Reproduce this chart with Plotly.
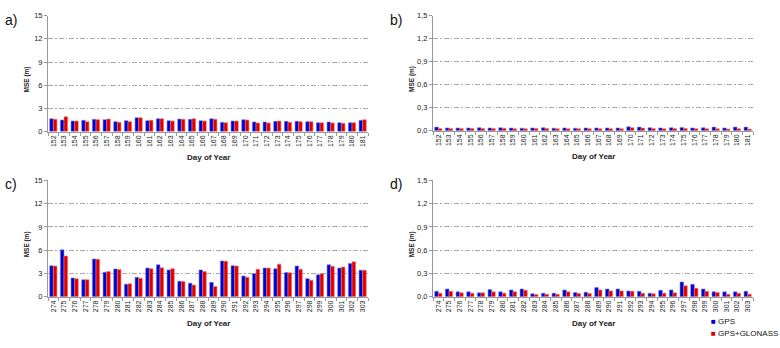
import plotly.graph_objects as go

days_a = [str(d) for d in range(152, 182)]
days_c = [str(d) for d in range(274, 304)]

a_gps = [1.67, 1.50, 1.37, 1.46, 1.59, 1.55, 1.29, 1.42, 1.80, 1.42, 1.67, 1.42, 1.63, 1.59, 1.42,
         1.67, 1.20, 1.37, 1.55, 1.25, 1.25, 1.33, 1.33, 1.33, 1.29, 1.16, 1.25, 1.16, 1.16, 1.46]
a_glo = [1.59, 1.93, 1.37, 1.29, 1.55, 1.63, 1.20, 1.29, 1.80, 1.46, 1.67, 1.37, 1.59, 1.67, 1.37,
         1.59, 1.16, 1.37, 1.50, 1.12, 1.12, 1.37, 1.20, 1.29, 1.29, 1.16, 1.12, 1.07, 1.16, 1.55]

b_gps = [0.046, 0.035, 0.035, 0.035, 0.038, 0.035, 0.038, 0.035, 0.032, 0.035, 0.038, 0.032, 0.035,
         0.032, 0.035, 0.035, 0.035, 0.035, 0.050, 0.046, 0.038, 0.035, 0.038, 0.042, 0.035, 0.038,
         0.046, 0.035, 0.046, 0.046]
b_glo = [0.027, 0.027, 0.027, 0.027, 0.027, 0.027, 0.030, 0.025, 0.025, 0.027, 0.027, 0.025, 0.025,
         0.025, 0.025, 0.025, 0.025, 0.025, 0.038, 0.033, 0.027, 0.025, 0.027, 0.027, 0.025, 0.025,
         0.025, 0.020, 0.025, 0.020]

c_gps = [4.00, 6.04, 2.42, 2.20, 4.87, 3.17, 3.58, 1.62, 2.50, 3.70, 4.12, 3.46, 2.00, 1.75, 3.46,
         1.85, 4.62, 4.00, 2.67, 3.00, 3.70, 3.62, 3.12, 3.96, 2.33, 2.83, 4.12, 3.70, 4.29, 3.42]
c_glo = [3.96, 5.25, 2.33, 2.20, 4.83, 3.25, 3.50, 1.67, 2.38, 3.62, 3.75, 3.62, 1.96, 1.50, 3.25,
         1.31, 4.58, 3.96, 2.50, 3.54, 3.70, 4.20, 3.08, 3.54, 2.12, 2.96, 3.92, 3.83, 4.50, 3.42]

d_gps = [0.071, 0.100, 0.063, 0.063, 0.050, 0.092, 0.063, 0.088, 0.100, 0.038, 0.046, 0.046, 0.088,
         0.054, 0.058, 0.120, 0.100, 0.100, 0.075, 0.071, 0.046, 0.083, 0.088, 0.190, 0.160, 0.100,
         0.063, 0.063, 0.063, 0.071]
d_glo = [0.046, 0.071, 0.050, 0.046, 0.050, 0.063, 0.046, 0.063, 0.083, 0.029, 0.033, 0.033, 0.063,
         0.042, 0.042, 0.088, 0.075, 0.075, 0.071, 0.046, 0.038, 0.046, 0.050, 0.140, 0.110, 0.071,
         0.054, 0.033, 0.046, 0.033]

panel_labels = ["a)", "b)", "c)", "d)"]
series_names = ["GPS", "GPS+GLONASS"]

BLUE = "#0000CC"
RED = "#DD0000"
BLUE_EDGE = "#8080E6"
RED_EDGE = "#F08080"
FONT = "Arial, Liberation Sans, sans-serif"
GRID_DASH = "5px,2px,1.5px,2px"

W, H = 780, 348

def px_x(p):
    return p / W

def px_y(p):
    return 1 - p / H

panels = [
    dict(x=days_a, gps=a_gps, glo=a_glo, xd=(48, 368), yd=(12, 131), rng=15, dt=3, fmt="d"),
    dict(x=days_a, gps=b_gps, glo=b_glo, xd=(433, 753), yd=(12, 130), rng=1.5, dt=0.3, fmt=".1f"),
    dict(x=days_c, gps=c_gps, glo=c_glo, xd=(48, 368), yd=(181, 300.5), rng=15, dt=3, fmt="d"),
    dict(x=days_c, gps=d_gps, glo=d_glo, xd=(433, 753), yd=(181, 300.5), rng=1.5, dt=0.3, fmt=".1f"),
]

fig = go.Figure()
layout = dict(
    width=W, height=H,
    margin=dict(l=0, r=0, t=0, b=0),
    paper_bgcolor="white", plot_bgcolor="white",
    separators=",.",
    barmode="group", bargap=0.32, bargroupgap=0.0,
    font=dict(family=FONT, size=7, color="#222"),
    showlegend=False,
)
annotations = []

for i, p in enumerate(panels):
    n = "" if i == 0 else str(i + 1)
    xa, ya = "x" + n, "y" + n
    fig.add_trace(go.Bar(x=p["x"], y=p["gps"], name=series_names[0], marker_color=BLUE,
                         marker_line=dict(width=0.6, color=BLUE_EDGE), xaxis=xa, yaxis=ya,
                         offsetgroup="g"))
    fig.add_trace(go.Bar(x=p["x"], y=p["glo"], name=series_names[1], marker_color=RED,
                         marker_line=dict(width=0.6, color=RED_EDGE), xaxis=xa, yaxis=ya,
                         offsetgroup="r"))
    layout["xaxis" + n] = dict(
        domain=[px_x(p["xd"][0]), px_x(p["xd"][1])], anchor=ya,
        type="category", tickangle=-90, tickfont=dict(size=7, color="#222"),
        showline=True, linecolor="#999", linewidth=1,
        ticks="outside", tickson="boundaries", ticklen=3, tickcolor="#999",
        showgrid=False, zeroline=False, fixedrange=True,
    )
    layout["yaxis" + n] = dict(
        domain=[px_y(p["yd"][1]), px_y(p["yd"][0])], anchor=xa,
        range=[0, p["rng"]], dtick=p["dt"], tick0=0, tickformat=p["fmt"],
        tickfont=dict(size=7.5, color="#222"),
        showline=True, linecolor="#999", linewidth=1,
        ticks="outside", ticklen=3, tickcolor="#999",
        showgrid=True, gridcolor="#aaa", griddash=GRID_DASH, gridwidth=1,
        zeroline=False, fixedrange=True,
    )
    xc = (p["xd"][0] + p["xd"][1]) / 2
    annotations.append(dict(x=px_x(xc), y=px_y(p["yd"][1] + 27), xref="paper", yref="paper",
                            text="<b>Day of Year</b>", showarrow=False,
                            font=dict(size=8, color="#222"), xanchor="center", yanchor="middle"))
    annotations.append(dict(x=px_x(p["xd"][0] - 21), y=px_y((p["yd"][0] + p["yd"][1]) / 2 + 6),
                            xref="paper", yref="paper", text="<b>MSE (m)</b>", showarrow=False,
                            textangle=-90, font=dict(size=6.5, color="#222"),
                            xanchor="center", yanchor="middle"))
    annotations.append(dict(x=px_x(p["xd"][0] - 45), y=px_y(p["yd"][0] + 4), xref="paper", yref="paper",
                            text=panel_labels[i], showarrow=False,
                            font=dict(size=14, color="#111"), xanchor="left", yanchor="middle"))

# legend (lower right)
for k, (name, col, ypx) in enumerate(zip(series_names, [BLUE, RED], [326, 338])):
    annotations.append(dict(x=px_x(709), y=px_y(ypx), xref="paper", yref="paper",
                            text=f"<span style='color:{col}'>■</span> {name}", showarrow=False,
                            font=dict(size=8, color="#111"), xanchor="left", yanchor="middle"))

layout["annotations"] = annotations
fig.update_layout(**layout)
fig.write_html("out.html", config={"displayModeBar": False},
               post_script="document.body.style.margin='0';document.body.style.overflow='hidden';")
